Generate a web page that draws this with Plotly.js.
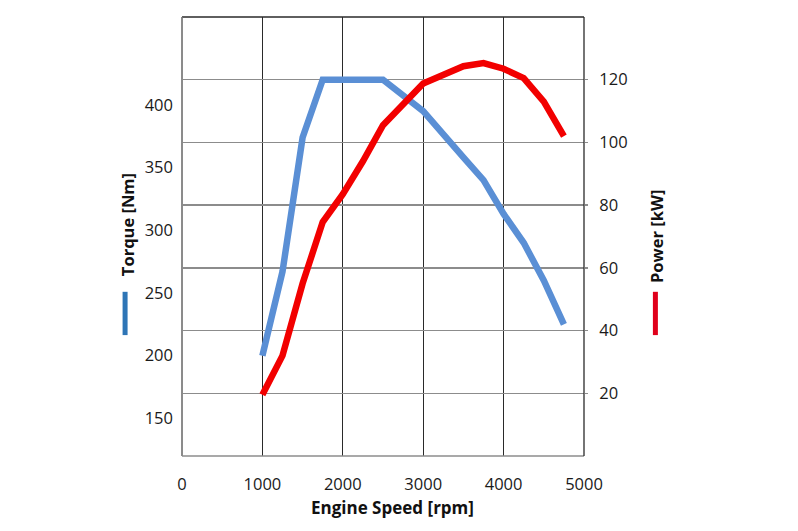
<!DOCTYPE html>
<html>
<head>
<meta charset="utf-8">
<script src="https://cdn.plot.ly/plotly-3.0.1.min.js"></script>
<style>html,body{margin:0;padding:0;background:#fff;}#chart{width:798px;height:531px;}</style>
</head>
<body>
<div id="chart"></div>
<script>
// Torque curve (left axis, Nm)
const torqueRpm = [1000, 1250, 1500, 1750, 2500, 3000, 3500, 3750, 4000, 4250, 4500, 4750];
const torqueNm  = [200, 267, 374, 420, 420, 395, 358, 340, 313, 290, 260, 225];
// Power curve (right axis, kW)
const powerRpm = [1000, 1250, 1500, 1750, 2000, 2250, 2500, 3000, 3500, 3750, 4000, 4250, 4500, 4750];
const powerKw  = [19.5, 32, 55, 74.6, 83.5, 94, 105.5, 118.8, 124.3, 125.3, 123.5, 120.5, 113, 102];
// Tick labels
const xTicks = [0, 1000, 2000, 3000, 4000, 5000];
const torqueTicks = [150, 200, 250, 300, 350, 400];
const powerTicks = [20, 40, 60, 80, 100, 120];

const FONT = "'Open Sans', 'Noto Sans', sans-serif";

const traces = [
  {x: torqueRpm, y: torqueNm, type: 'scatter', mode: 'lines', yaxis: 'y',
   line: {color: '#5a8fd5', width: 6.5}, name: 'Torque [Nm]', hoverinfo: 'skip'},
  {x: powerRpm, y: powerKw, type: 'scatter', mode: 'lines', yaxis: 'y2',
   line: {color: '#f20000', width: 6.5}, name: 'Power [kW]', hoverinfo: 'skip'}
];

const layout = {
  width: 798, height: 531,
  margin: {l: 182, r: 213.5, t: 17, b: 75},
  paper_bgcolor: '#fff', plot_bgcolor: '#fff',
  showlegend: false,
  font: {family: FONT, size: 16, color: '#222'},
  xaxis: {
    range: [0, 5000], tickvals: xTicks, ticktext: xTicks.map(String),
    showgrid: true, gridcolor: '#2a2a2a', gridwidth: 1.3,
    zeroline: true, zerolinecolor: '#8c8c8c', zerolinewidth: 1.3,
    showline: false, ticks: '', ticklabelstandoff: 16,
    tickfont: {family: FONT, size: 16.5, color: '#1a1a1a'}, fixedrange: true
  },
  yaxis: {
    range: [120, 470], tickvals: torqueTicks, ticktext: torqueTicks.map(String),
    showgrid: false, zeroline: false, showline: false, ticks: '',
    ticklabelstandoff: 8,
    tickfont: {family: FONT, size: 16.5, color: '#1a1a1a'}, fixedrange: true
  },
  yaxis2: {
    range: [0, 140], tickvals: powerTicks, ticktext: powerTicks.map(String),
    overlaying: 'y', side: 'right',
    showgrid: true, gridcolor: '#8c8c8c', gridwidth: 1.3,
    zeroline: false, showline: false,
    ticks: 'outside', ticklen: 3, tickcolor: '#8c8c8c', tickwidth: 1.3,
    ticklabelstandoff: 8,
    tickfont: {family: FONT, size: 16.5, color: '#1a1a1a'}, fixedrange: true
  },
  shapes: [
    // plot frame
    {type: 'line', xref: 'paper', yref: 'paper', x0: 0, x1: 1, y0: 1, y1: 1, line: {color: '#2a2a2a', width: 1.3}},
    {type: 'line', xref: 'paper', yref: 'paper', x0: 0, x1: 1, y0: 0, y1: 0, line: {color: '#8c8c8c', width: 1.3}},
    {type: 'line', xref: 'paper', yref: 'paper', x0: 0, x1: 0, y0: 0, y1: 1, line: {color: '#8c8c8c', width: 1.3}},
    {type: 'line', xref: 'paper', yref: 'paper', x0: 1, x1: 1, y0: 0, y1: 1, line: {color: '#2a2a2a', width: 1.3}},
    // legend bars
    {type: 'line', xref: 'paper', yref: 'paper', x0: -0.1416, x1: -0.1416, y0: 0.2754, y1: 0.374, line: {color: '#2e75b6', width: 5}},
    {type: 'line', xref: 'paper', yref: 'paper', x0: 1.1776, x1: 1.1776, y0: 0.2754, y1: 0.374, line: {color: '#e0001b', width: 5}}
  ],
  annotations: [
    {text: '<b>Torque [Nm]</b>', xref: 'paper', yref: 'paper', x: -0.1367, y: 0.526,
     textangle: -90, showarrow: false, xanchor: 'center', yanchor: 'middle',
     font: {family: FONT, size: 16.5, color: '#111'}},
    {text: '<b>Power [kW]</b>', xref: 'paper', yref: 'paper', x: 1.180, y: 0.4997,
     textangle: -90, showarrow: false, xanchor: 'center', yanchor: 'middle',
     font: {family: FONT, size: 16.5, color: '#111'}},
    {text: '<b>Engine Speed [rpm]</b>', xref: 'paper', yref: 'paper', x: 0.5248, y: -0.1184,
     showarrow: false, xanchor: 'center', yanchor: 'middle',
     font: {family: FONT, size: 17, color: '#111'}}
  ]
};

Plotly.newPlot('chart', traces, layout, {displayModeBar: false, staticPlot: true});
</script>
</body>
</html>
